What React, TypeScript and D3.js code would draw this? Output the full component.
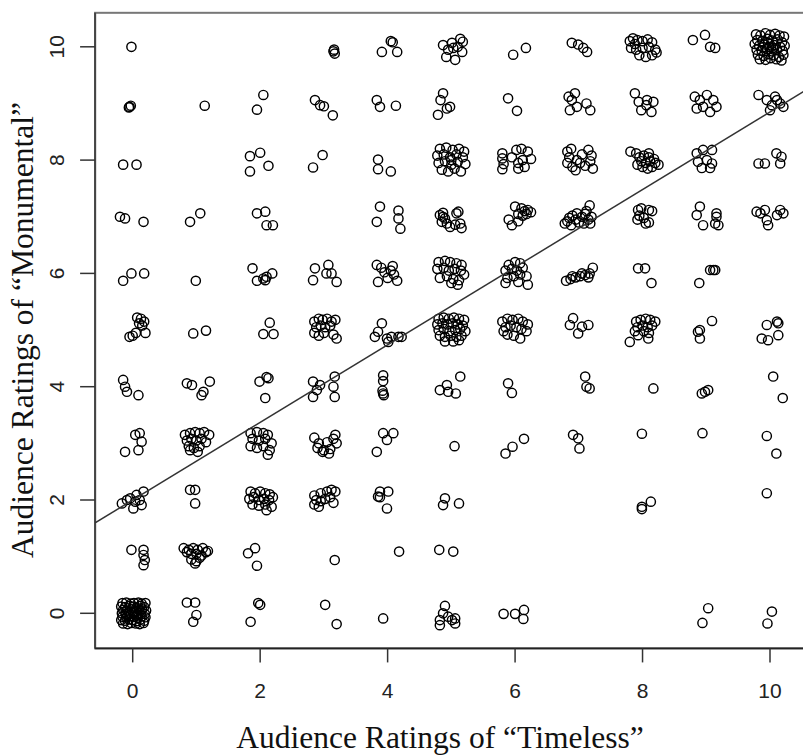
import React from "react";
import * as d3 from "d3";

// Jittered audience ratings, one array per "Monumental" rating level.
// Each entry is [timeless, monumental].
type Pt = [number, number];

const monumental10: Pt[] = [
  [-0.02, 10.0],
  [3.15, 9.92], [3.17, 9.88], [3.16, 9.95],
  [3.91, 9.91], [4.05, 10.1], [4.08, 10.08], [4.15, 9.91],
  [4.87, 10.03], [5.01, 10.07], [5.14, 10.14], [5.18, 10.09], [4.92, 9.82], [5.06, 9.77], [5.17, 9.91], [5.03, 9.98], [5.1, 10.0], [4.95, 9.95],
  [5.97, 9.86], [6.17, 9.98],
  [6.89, 10.07], [6.99, 10.04], [7.07, 9.98], [7.13, 9.91],
  [7.8, 10.1], [7.85, 10.15], [7.92, 10.12], [8.0, 10.1], [8.08, 10.13], [8.15, 10.08], [7.82, 9.98], [7.9, 9.95],
  [8.0, 9.98], [8.1, 10.0], [8.2, 9.95], [7.95, 9.85], [8.05, 9.82], [8.15, 9.85], [8.22, 9.9], [7.88, 10.05],
  [8.79, 10.12], [8.98, 10.21], [9.06, 10.0], [9.14, 9.98],
  [9.78, 10.22], [9.85, 10.2], [9.93, 10.24], [10.0, 10.21], [10.08, 10.23], [10.15, 10.2], [10.22, 10.18],
  [9.8, 10.12], [9.88, 10.1], [9.96, 10.14], [10.04, 10.11], [10.12, 10.13], [10.19, 10.08], [9.76, 10.05],
  [9.83, 10.02], [9.91, 10.04], [9.99, 10.0], [10.07, 10.03], [10.16, 10.0], [10.23, 10.02], [9.79, 9.95],
  [9.87, 9.93], [9.95, 9.96], [10.03, 9.92], [10.11, 9.95], [10.2, 9.93], [9.81, 9.86], [9.9, 9.84],
  [9.98, 9.87], [10.06, 9.85], [10.14, 9.82], [10.21, 9.86], [9.84, 9.78], [9.93, 9.77], [10.01, 9.8],
  [10.1, 9.78], [10.18, 9.76], [9.97, 10.07], [10.05, 9.98], [9.89, 9.99],
];

const monumental9: Pt[] = [
  [-0.05, 8.94], [-0.03, 8.96], [-0.06, 8.93],
  [1.13, 8.96],
  [2.05, 9.15], [1.95, 8.89],
  [2.86, 9.06], [2.94, 8.97], [3.0, 8.95], [3.14, 8.79],
  [3.83, 9.06], [3.88, 8.94], [4.13, 8.96],
  [4.87, 9.18], [4.83, 9.06], [4.98, 8.94], [4.79, 8.8], [4.93, 8.91],
  [5.89, 9.09], [6.03, 8.87],
  [6.89, 9.06], [6.84, 9.12], [6.97, 8.94], [6.86, 8.88], [7.18, 8.88], [7.12, 9.0], [6.94, 9.18],
  [7.88, 9.18], [7.94, 9.03], [8.07, 9.06], [8.17, 9.03], [7.98, 8.88], [8.14, 8.85], [8.06, 8.97],
  [8.82, 9.12], [8.9, 9.06], [9.01, 9.15], [9.11, 9.06], [8.95, 8.94], [9.06, 8.85], [9.16, 8.94], [8.85, 8.91],
  [9.82, 9.15], [9.95, 9.06], [10.08, 9.12], [10.16, 9.0], [10.21, 8.94], [10.0, 8.88], [10.03, 8.97], [10.11, 9.06],
];

const monumental8: Pt[] = [
  [-0.15, 7.92], [0.06, 7.92],
  [1.84, 8.07], [2.0, 8.13], [2.13, 7.9], [1.84, 7.8],
  [2.83, 7.87], [2.98, 8.09],
  [3.85, 8.01], [3.85, 7.84], [4.05, 7.8],
  [4.82, 8.2], [4.92, 8.22], [5.02, 8.18], [5.12, 8.2], [5.2, 8.15], [4.78, 8.08], [4.88, 8.1], [4.98, 8.05],
  [5.08, 8.1], [5.18, 8.05], [4.8, 7.95], [4.9, 7.98], [5.0, 7.92], [5.1, 7.97], [5.22, 7.93], [4.85, 7.83],
  [4.95, 7.8], [5.05, 7.85], [5.15, 7.8], [5.0, 8.0],
  [5.8, 8.12], [5.8, 8.03], [5.82, 7.93], [5.8, 7.84], [5.95, 8.05], [6.02, 8.18], [6.1, 8.2], [6.2, 8.15],
  [6.05, 7.95], [6.12, 8.0], [6.25, 8.02], [6.05, 7.85], [6.15, 7.88],
  [6.82, 8.15], [6.88, 8.2], [6.85, 8.05], [6.82, 7.95], [6.9, 7.88], [6.97, 8.0], [7.05, 8.1], [7.15, 8.18],
  [7.2, 8.08], [7.18, 7.98], [7.1, 7.9], [7.22, 7.85], [6.95, 7.82], [7.02, 7.95],
  [7.81, 8.15], [7.9, 8.12], [7.95, 8.05], [8.02, 8.08], [8.1, 8.05], [8.18, 8.02], [7.98, 7.98], [8.05, 7.95],
  [8.12, 7.98], [8.2, 7.95], [8.25, 7.92], [8.0, 7.88], [8.08, 7.85], [8.15, 7.88], [7.92, 7.92], [8.1, 8.12],
  [8.85, 8.12], [8.95, 8.18], [9.09, 8.18], [8.87, 7.97], [9.01, 8.0], [9.09, 7.94], [8.93, 7.86], [9.06, 7.86],
  [9.82, 7.94], [9.92, 7.94], [10.1, 8.12], [10.18, 8.06], [10.16, 7.94],
];

const monumental7: Pt[] = [
  [-0.2, 7.0], [-0.12, 6.97], [0.17, 6.91],
  [0.9, 6.91], [1.06, 7.06],
  [1.95, 7.06], [2.08, 7.09], [2.1, 6.85], [2.2, 6.85],
  [3.88, 7.18], [3.83, 6.91], [4.17, 7.11], [4.2, 6.79], [4.17, 6.97],
  [4.82, 7.03], [4.87, 7.0], [4.85, 6.91], [4.93, 6.88], [4.98, 6.82], [5.08, 7.06], [5.14, 6.88], [5.16, 6.8],
  [5.06, 6.86], [4.9, 6.97], [4.87, 7.07], [5.11, 7.09],
  [6.0, 7.18], [6.1, 7.15], [6.15, 7.1], [6.2, 7.12], [6.05, 7.05], [6.12, 7.02], [6.18, 7.05], [5.9, 6.95],
  [5.95, 6.85], [6.05, 6.92], [6.25, 7.08],
  [6.78, 6.88], [6.82, 6.92], [6.85, 6.98], [6.9, 7.02], [6.95, 6.95], [7.0, 6.9], [7.05, 7.0], [7.1, 7.05],
  [7.15, 6.95], [7.2, 7.0], [6.88, 6.85], [6.97, 7.06], [7.08, 6.88], [7.12, 7.1], [7.18, 6.88], [7.17, 7.2],
  [7.93, 7.12], [7.98, 7.15], [8.1, 7.12], [7.95, 7.02], [8.02, 6.98], [8.05, 6.88], [7.92, 6.95], [8.1, 6.9], [8.15, 7.1],
  [8.85, 7.03], [8.95, 6.85], [9.16, 7.0], [9.19, 6.85], [9.14, 6.88], [8.9, 7.18], [9.16, 7.06],
  [9.85, 7.06], [9.95, 6.94], [10.11, 7.03], [10.21, 7.06], [9.97, 6.85], [9.79, 7.09], [9.92, 7.12], [10.16, 7.12],
];

const monumental6: Pt[] = [
  [-0.15, 5.87], [-0.02, 6.0], [0.18, 6.0],
  [0.99, 5.87],
  [1.88, 6.09], [1.95, 5.87], [2.05, 5.91], [2.1, 5.94], [2.19, 6.0], [2.08, 5.88],
  [2.86, 6.09], [2.83, 5.88], [3.04, 6.0], [3.07, 6.15], [3.2, 5.85], [3.12, 6.0],
  [3.83, 6.15], [3.9, 6.1], [3.95, 6.02], [4.05, 6.05], [4.1, 5.98], [3.85, 5.85], [4.0, 5.92], [4.15, 5.87], [4.08, 6.13],
  [4.8, 6.2], [4.9, 6.22], [4.98, 6.2], [5.08, 6.18], [5.16, 6.15], [4.78, 6.08], [4.88, 6.1], [4.96, 6.05],
  [5.05, 6.08], [5.15, 6.05], [5.2, 5.98], [4.82, 5.92], [4.93, 5.95], [5.03, 5.9], [5.12, 5.88], [5.0, 5.83], [5.1, 5.8],
  [5.9, 6.15], [6.0, 6.2], [6.08, 6.18], [5.85, 6.05], [5.95, 6.08], [6.03, 6.05], [6.12, 6.1], [5.88, 5.92],
  [5.98, 5.95], [6.08, 5.98], [6.18, 5.95], [5.85, 5.83], [6.05, 5.85], [6.2, 5.8],
  [6.8, 5.87], [6.87, 5.9], [6.95, 5.93], [7.02, 5.95], [7.1, 5.97], [7.17, 6.0], [7.22, 6.1], [6.9, 5.95], [7.05, 6.0], [7.15, 5.93],
  [7.93, 6.09], [8.04, 6.09], [8.14, 5.83],
  [8.89, 5.83], [9.06, 6.06], [9.11, 6.06], [9.14, 6.06],
];

const monumental5: Pt[] = [
  [0.07, 5.22], [0.13, 5.2], [0.18, 5.15], [0.1, 5.12], [0.15, 5.08], [0.05, 4.95], [-0.05, 4.88], [0.0, 4.9], [0.2, 4.95],
  [0.95, 4.94], [1.15, 4.99],
  [2.15, 5.13], [2.05, 4.93], [2.21, 4.93],
  [2.85, 5.15], [2.92, 5.2], [2.98, 5.18], [3.05, 5.2], [3.12, 5.15], [3.18, 5.18], [2.88, 5.05], [2.95, 5.08],
  [3.02, 5.05], [3.1, 5.08], [2.85, 4.95], [2.92, 4.9], [3.15, 4.92], [3.2, 4.85], [3.0, 4.95],
  [3.91, 5.12], [3.8, 4.88], [3.99, 4.85], [4.06, 4.88], [4.17, 4.88], [4.22, 4.88], [3.85, 4.97], [4.01, 4.79],
  [4.8, 5.2], [4.88, 5.22], [4.96, 5.2], [5.04, 5.22], [5.12, 5.2], [5.2, 5.18],
  [4.78, 5.1], [4.86, 5.12], [4.94, 5.1], [5.02, 5.12], [5.1, 5.1], [5.18, 5.08],
  [4.8, 5.0], [4.88, 5.02], [4.97, 4.98], [5.06, 5.0], [5.14, 5.02], [5.22, 4.98],
  [4.82, 4.9], [4.9, 4.88], [4.99, 4.9], [5.08, 4.88], [5.16, 4.9], [4.9, 4.8], [5.03, 4.8], [5.12, 4.82],
  [5.8, 5.15], [5.88, 5.2], [5.96, 5.18], [6.05, 5.2], [6.12, 5.15], [6.2, 5.1], [5.85, 5.05], [5.93, 5.08],
  [6.02, 5.05], [6.1, 5.02], [6.18, 4.98], [5.88, 4.92], [5.98, 4.9], [6.08, 4.85], [5.82, 4.98],
  [6.91, 5.21], [6.86, 5.09], [6.99, 4.94], [7.15, 5.09], [7.05, 5.06],
  [7.8, 4.79], [7.93, 4.91], [8.09, 4.85], [7.9, 5.15], [7.97, 5.18], [8.05, 5.2], [8.12, 5.18], [8.2, 5.15],
  [7.92, 5.05], [8.0, 5.08], [8.08, 5.05], [8.15, 5.08], [8.02, 4.98], [8.1, 4.95], [7.88, 4.98],
  [8.87, 4.97], [8.9, 4.85], [9.09, 5.16], [8.9, 5.0],
  [9.95, 5.09], [10.11, 5.15], [10.13, 5.12], [10.13, 4.91], [9.87, 4.85], [9.97, 4.82],
];

const monumental4: Pt[] = [
  [-0.15, 4.12], [-0.12, 4.0], [-0.09, 3.91], [0.09, 3.85],
  [0.85, 4.06], [0.93, 4.03], [1.08, 3.85], [1.11, 3.91], [1.21, 4.09],
  [1.99, 4.09], [2.1, 4.17], [2.13, 4.15], [2.08, 3.8],
  [2.83, 4.09], [2.89, 3.94], [2.83, 3.82], [2.94, 4.03], [3.17, 4.18], [3.15, 4.0], [3.17, 3.82],
  [3.93, 4.2], [3.93, 4.1], [3.92, 3.93], [3.94, 3.85], [3.93, 3.88],
  [4.82, 3.94], [4.93, 4.03], [4.95, 3.91], [5.07, 3.88], [5.14, 4.18],
  [5.89, 4.06], [5.95, 3.89],
  [7.1, 4.18], [7.12, 4.0], [7.17, 3.97],
  [8.17, 3.97],
  [8.93, 3.88], [8.98, 3.91], [9.03, 3.94],
  [10.05, 4.18], [10.2, 3.8],
];

const monumental3: Pt[] = [
  [0.04, 3.15], [0.11, 3.18], [0.14, 3.03], [0.09, 2.88], [-0.12, 2.85],
  [0.82, 3.15], [0.9, 3.18], [0.98, 3.2], [1.05, 3.18], [1.12, 3.2], [1.2, 3.15], [0.85, 3.05], [0.92, 3.08],
  [1.0, 3.05], [1.08, 3.08], [1.15, 3.02], [0.88, 2.95], [0.96, 2.92], [1.05, 2.95], [0.9, 2.88], [1.02, 2.85],
  [1.85, 3.18], [1.95, 3.2], [2.05, 3.18], [2.12, 3.15], [1.88, 3.08], [1.98, 3.05], [2.08, 3.08], [2.18, 3.0],
  [1.85, 2.95], [1.95, 2.92], [2.05, 2.95], [2.15, 2.88], [2.12, 2.8],
  [2.85, 3.1], [2.92, 3.0], [2.9, 2.92], [3.0, 2.88], [3.1, 2.9], [3.05, 3.02], [3.15, 3.08], [3.18, 3.15],
  [3.2, 3.0], [2.98, 2.85], [3.08, 2.82],
  [3.93, 3.18], [4.09, 3.18], [3.99, 3.06], [3.83, 2.85],
  [5.05, 2.95],
  [5.85, 2.82], [5.96, 2.94], [6.14, 3.08],
  [6.91, 3.15], [6.99, 3.09], [7.01, 2.91],
  [7.99, 3.17],
  [8.94, 3.18],
  [9.95, 3.13], [10.1, 2.82],
];

const monumental2: Pt[] = [
  [-0.17, 1.94], [-0.09, 2.0], [-0.04, 2.03], [0.04, 1.97], [0.11, 2.0], [0.17, 2.15], [0.01, 1.85], [0.14, 1.91], [0.06, 2.09],
  [0.9, 2.18], [0.98, 2.18], [0.98, 1.94],
  [1.85, 2.15], [1.92, 2.12], [2.0, 2.15], [2.08, 2.12], [2.15, 2.1], [2.2, 2.05], [1.83, 2.02], [1.9, 2.05],
  [1.98, 2.0], [2.06, 2.02], [2.14, 2.0], [1.88, 1.92], [1.98, 1.9], [2.08, 1.92], [2.18, 1.88], [2.1, 1.82],
  [2.85, 2.08], [2.95, 2.12], [3.05, 2.15], [3.12, 2.18], [3.18, 2.15], [2.88, 2.0], [2.95, 1.98], [3.02, 2.02],
  [3.1, 2.05], [2.85, 1.92], [2.92, 1.88], [3.15, 1.95],
  [3.88, 2.15], [4.01, 2.15], [3.85, 2.06], [3.88, 2.05], [3.99, 1.85],
  [4.9, 2.03], [4.87, 1.91], [5.12, 1.94],
  [7.99, 1.88], [7.99, 1.84], [8.13, 1.97],
  [9.95, 2.12],
];

const monumental1: Pt[] = [
  [-0.02, 1.12], [0.17, 1.12], [0.17, 1.03], [0.19, 0.94], [0.17, 0.85],
  [0.8, 1.15], [0.88, 1.12], [0.95, 1.15], [1.02, 1.12], [1.1, 1.15], [1.18, 1.1], [0.85, 1.08], [0.92, 1.05],
  [1.0, 1.05], [1.08, 1.02], [1.15, 1.08], [0.92, 0.95], [1.0, 0.92], [1.05, 0.98], [0.98, 0.88],
  [1.81, 1.06], [1.92, 1.15], [1.95, 0.84],
  [3.17, 0.94],
  [4.18, 1.09],
  [4.81, 1.12], [5.03, 1.09],
];

const monumental0: Pt[] = [
  [-0.16, 0.18], [-0.1, 0.19], [-0.03, 0.17], [0.02, 0.18], [0.09, 0.19], [0.14, 0.17], [0.2, 0.18],
  [-0.18, 0.12], [-0.12, 0.11], [-0.05, 0.13], [0.01, 0.12], [0.06, 0.1], [0.12, 0.13], [0.18, 0.11],
  [-0.15, 0.06], [-0.09, 0.05], [-0.02, 0.07], [0.03, 0.04], [0.1, 0.06], [0.15, 0.07], [0.21, 0.05],
  [-0.17, 0.0], [-0.11, -0.01], [-0.06, 0.01], [0.01, 0.0], [0.07, -0.02], [0.13, 0.01], [0.19, -0.01],
  [-0.16, -0.06], [-0.1, -0.07], [-0.04, -0.05], [0.02, -0.06], [0.08, -0.08], [0.14, -0.05], [0.2, -0.07],
  [-0.18, -0.12], [-0.12, -0.13], [-0.06, -0.11], [0.0, -0.12], [0.06, -0.14], [0.12, -0.11], [0.18, -0.13],
  [-0.15, -0.18], [-0.08, -0.19], [-0.02, -0.17], [0.05, -0.18], [0.11, -0.19], [0.17, -0.17],
  [0.85, 0.19], [0.98, 0.19], [1.0, -0.03], [0.95, -0.15],
  [1.97, 0.18], [2.0, 0.15], [1.85, -0.15],
  [3.02, 0.15], [3.2, -0.19],
  [3.93, -0.09],
  [4.9, 0.13], [4.87, 0.0], [4.82, -0.12], [4.82, -0.21], [5.06, -0.09], [5.06, -0.18], [4.95, -0.06], [5.01, -0.12],
  [5.82, -0.01], [6.0, -0.01], [6.14, 0.06], [6.13, -0.1],
  [9.03, 0.09], [8.94, -0.17],
  [10.03, 0.03], [9.96, -0.18],
];

const allRatings: Pt[] = [
  ...monumental10, ...monumental9, ...monumental8, ...monumental7, ...monumental6,
  ...monumental5, ...monumental4, ...monumental3, ...monumental2, ...monumental1, ...monumental0,
];

const xTicks = [0, 2, 4, 6, 8, 10];
const yTicks = [0, 2, 4, 6, 8, 10];

// Least-squares fit of Monumental on Timeless
const fitIntercept = 2.0;
const fitSlope = 0.685;

const xTitle = "Audience Ratings of \u201CTimeless\u201D";
const yTitle = "Audience Ratings of \u201CMonumental\u201D";

const W = 803;
const H = 755;

export default function App() {
  const x = d3.scaleLinear().domain([0, 10]).range([132.7, 770]);
  const y = d3.scaleLinear().domain([0, 10]).range([613.3, 46.8]);

  const xMin = -0.59;
  const xMax = 10.62;
  const yMin = -0.62;
  const yMax = 10.6;

  const left = x(xMin);
  const right = x(xMax);
  const top = y(yMax);
  const bottom = y(yMin);

  const fitLine = d3
    .line<number>()
    .x((d) => x(d))
    .y((d) => y(fitIntercept + fitSlope * d))([xMin, xMax]);

  const tickFont = "'Liberation Sans', Arial, sans-serif";
  const titleFont = "'Liberation Serif', 'Times New Roman', serif";

  return (
    <svg
      width={W}
      height={H}
      style={{ position: "absolute", left: 0, top: 0, background: "#fff" }}
    >
      <defs>
        <clipPath id="plot-area">
          <rect x={left} y={top} width={right - left} height={bottom - top} />
        </clipPath>
      </defs>

      {/* frame */}
      <rect
        x={left}
        y={top}
        width={right - left}
        height={bottom - top}
        fill="none"
        stroke="#777"
        strokeWidth={2}
      />
      <line x1={left} x2={left} y1={top} y2={bottom} stroke="#444" strokeWidth={2} />
      <line x1={left} x2={right} y1={bottom} y2={bottom} stroke="#222" strokeWidth={1.8} />

      {/* points */}
      <g clipPath="url(#plot-area)">
        {allRatings.map(([t, m], i) => (
          <circle
            key={i}
            cx={x(t)}
            cy={y(m)}
            r={4.6}
            fill="none"
            stroke="#000"
            strokeWidth={1.45}
          />
        ))}
        <path d={fitLine ?? ""} fill="none" stroke="#333" strokeWidth={1.5} />
      </g>

      {/* x axis */}
      {xTicks.map((t) => (
        <g key={`xt${t}`}>
          <line x1={x(t)} x2={x(t)} y1={bottom} y2={bottom + 14} stroke="#333" strokeWidth={1.5} />
          <text
            x={x(t)}
            y={698}
            textAnchor="middle"
            fontFamily={tickFont}
            fontSize={21}
            fill="#222"
          >
            {t}
          </text>
        </g>
      ))}

      {/* y axis */}
      {yTicks.map((t) => (
        <g key={`yt${t}`}>
          <line x1={left - 15} x2={left} y1={y(t)} y2={y(t)} stroke="#333" strokeWidth={1.5} />
          <text
            transform={`translate(63.5,${y(t)}) rotate(-90)`}
            textAnchor="middle"
            fontFamily={tickFont}
            fontSize={21}
            fill="#222"
          >
            {t}
          </text>
        </g>
      ))}

      {/* titles */}
      <text
        x={440}
        y={748}
        textAnchor="middle"
        fontFamily={titleFont}
        fontSize={31.5}
        fill="#111"
      >
        {xTitle}
      </text>
      <text
        transform={`translate(33,330) rotate(-90)`}
        textAnchor="middle"
        fontFamily={titleFont}
        fontSize={31.5}
        fill="#111"
      >
        {yTitle}
      </text>
    </svg>
  );
}
